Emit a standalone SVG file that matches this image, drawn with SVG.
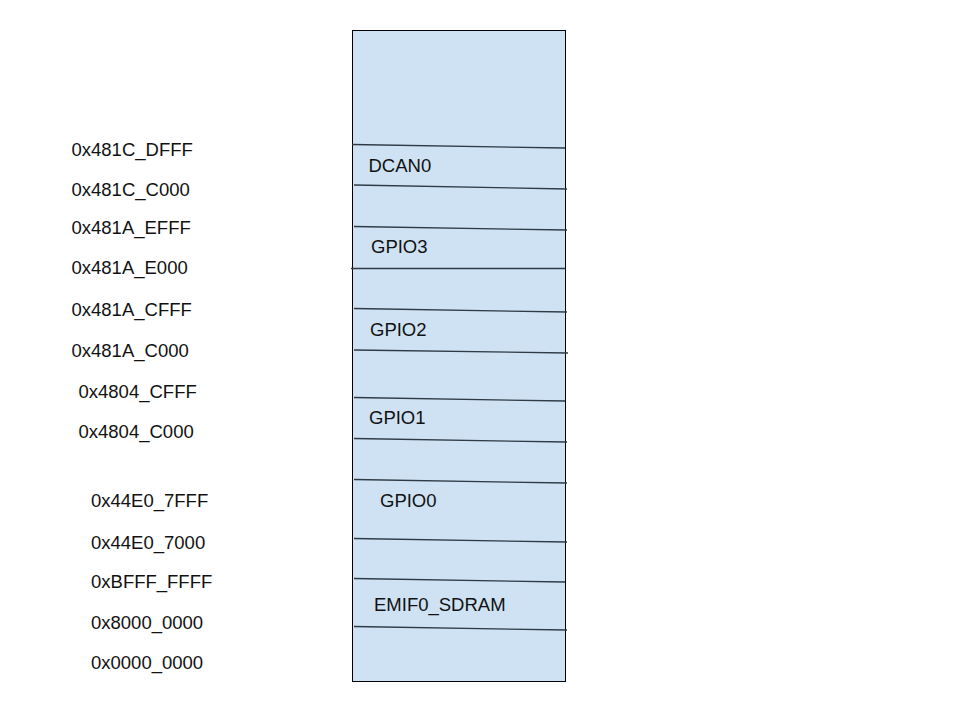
<svg xmlns="http://www.w3.org/2000/svg" width="960" height="720" viewBox="0 0 960 720">
<style>
.t{font-family:"Liberation Sans",Arial,sans-serif;font-size:18.5px;fill:#111}
.d{stroke:#2e3a44;stroke-width:1.3;fill:none}
</style>
<rect width="960" height="720" fill="#fff"/>
<g id="memory-map">
<rect x="352.5" y="30.5" width="213" height="651" fill="#cfe2f3" stroke="#000" stroke-width="1"/>
</g>
<g id="connectors">
<line class="d" x1="352" y1="144.5" x2="565" y2="148"/>
<line class="d" x1="354" y1="185" x2="567" y2="189"/>
<line class="d" x1="354" y1="226.5" x2="567" y2="230"/>
<line class="d" x1="351" y1="268.5" x2="565" y2="268.5"/>
<line class="d" x1="354" y1="308.5" x2="567" y2="312"/>
<line class="d" x1="354" y1="350" x2="568" y2="353"/>
<line class="d" x1="354" y1="397.5" x2="565" y2="401"/>
<line class="d" x1="354" y1="438.5" x2="567" y2="442"/>
<line class="d" x1="354" y1="479.5" x2="567" y2="483"/>
<line class="d" x1="354" y1="538.5" x2="567" y2="542"/>
<line class="d" x1="354" y1="578.5" x2="565" y2="582"/>
<line class="d" x1="354" y1="626.5" x2="567" y2="630"/>
</g>
<g id="region-labels">
<text class="t" x="368.5" y="171.5">DCAN0</text>
<text class="t" x="371" y="253">GPIO3</text>
<text class="t" x="370" y="335.5">GPIO2</text>
<text class="t" x="369" y="424">GPIO1</text>
<text class="t" x="380" y="506.5">GPIO0</text>
<text class="t" x="374" y="610.5">EMIF0_SDRAM</text>
</g>
<g id="address-labels">
<text class="t" x="71.5" y="155.5">0x481C_DFFF</text>
<text class="t" x="71.5" y="195.5">0x481C_C000</text>
<text class="t" x="71.5" y="233.5">0x481A_EFFF</text>
<text class="t" x="71.5" y="274">0x481A_E000</text>
<text class="t" x="71.5" y="316">0x481A_CFFF</text>
<text class="t" x="71.5" y="357">0x481A_C000</text>
<text class="t" x="78.5" y="397.5">0x4804_CFFF</text>
<text class="t" x="78.5" y="437.5">0x4804_C000</text>
<text class="t" x="91" y="506.5">0x44E0_7FFF</text>
<text class="t" x="91" y="548.5">0x44E0_7000</text>
<text class="t" x="91" y="587.5">0xBFFF_FFFF</text>
<text class="t" x="91" y="628.5">0x8000_0000</text>
<text class="t" x="91" y="668.5">0x0000_0000</text>
</g>
</svg>
